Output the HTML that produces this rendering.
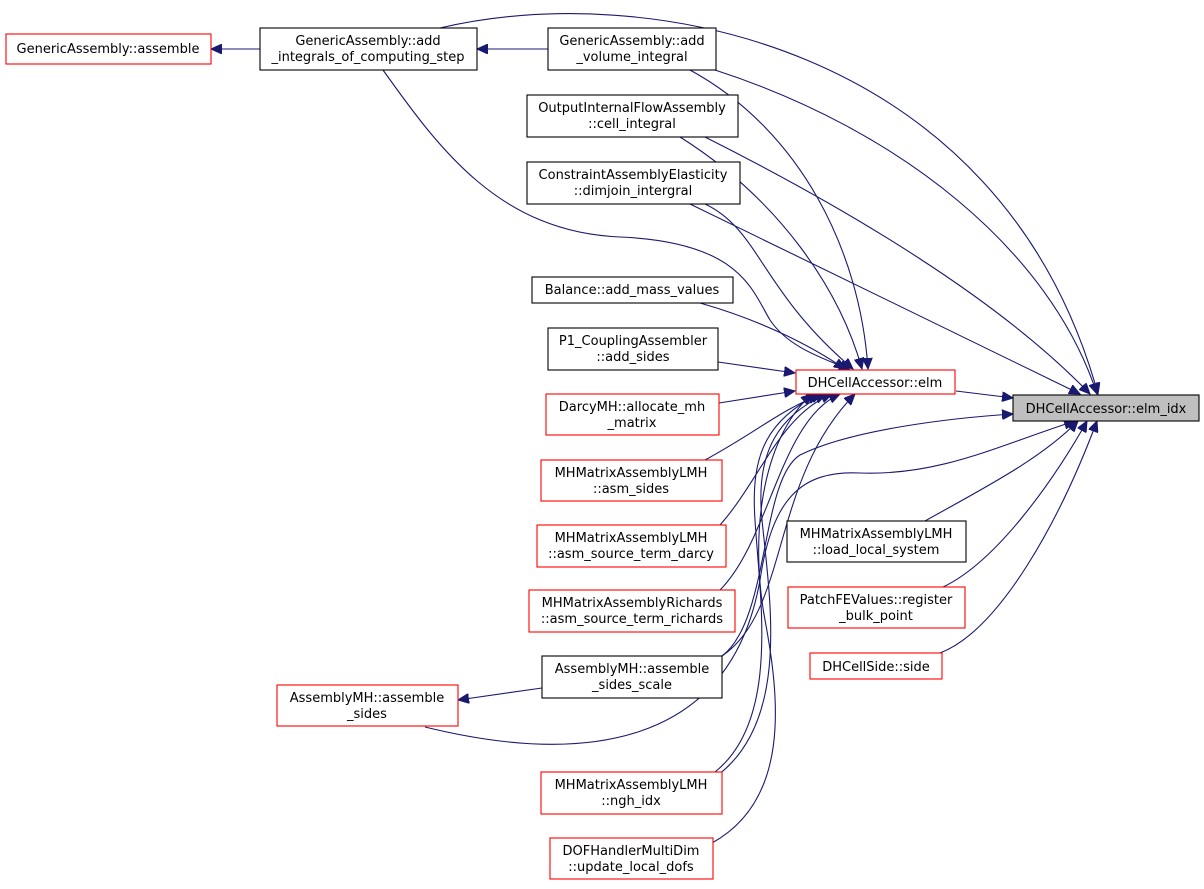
<!DOCTYPE html>
<html><head><meta charset="utf-8"><style>
body{margin:0;background:#fff}
svg text{font-family:"DejaVu Sans","Liberation Sans",sans-serif;font-size:13px;fill:#000}
</style></head><body>
<svg width="1204" height="884" viewBox="0 0 1204 884" xmlns="http://www.w3.org/2000/svg">
<defs>
<marker id="a" markerUnits="userSpaceOnUse" markerWidth="12" markerHeight="10" refX="11" refY="5" orient="auto">
<path d="M0,0 L11,5 L0,10 Z" fill="#191970" stroke="#191970"/>
</marker>
</defs>
<g fill="none" stroke="#191970" stroke-width="1.1" marker-end="url(#a)">
<path d="M260,49 L211,49"/>
<path d="M548,49 L477,49"/>
<path d="M440,28 C640,-20 1000,40 1098,394"/>
<path d="M383,70 C440,150 500,232 620,237 C740,242 752,290 770,320 C790,350 830,360 850,370"/>
<path d="M690,70 C800,130 860,250 868,369"/>
<path d="M715,70 C900,130 1050,250 1097,394"/>
<path d="M680,137 C780,200 840,290 862,369"/>
<path d="M705,137 C850,210 1000,300 1090,394"/>
<path d="M705,204 C760,230 760,290 853,369"/>
<path d="M690,204 L1080,394"/>
<path d="M700,303 C760,320 810,345 845,369"/>
<path d="M718,362 L795,373"/>
<path d="M719,403 L795,391"/>
<path d="M705,460 C760,430 780,410 822,394"/>
<path d="M720,525 C760,480 780,415 832,394"/>
<path d="M720,590 C770,540 780,420 840,394"/>
<path d="M722,656 C790,610 770,480 855,394"/>
<path d="M956,391 L1013,398"/>
<path d="M722,656 C770,620 760,480 800,455 C850,430 950,418 1013,414"/>
<path d="M425,727 C580,765 730,750 760,580 C772,500 800,470 860,473 C940,476 1000,445 1075,421"/>
<path d="M925,521 C980,490 1040,460 1078,421"/>
<path d="M943,587 C1000,560 1060,470 1087,421"/>
<path d="M940,653 C1000,630 1060,520 1097,421"/>
<path d="M715,772 C780,720 760,600 755,520 C750,450 770,420 818,394"/>
<path d="M718,775 C790,720 770,600 762,520 C755,450 780,415 826,394"/>
<path d="M712,843 C790,800 780,700 765,620 C750,540 760,440 812,394"/>
<path d="M542,688 L458,700"/>
</g>
<g stroke-width="1.1">
<rect x="6" y="34" width="205" height="30" fill="#fff" stroke="red"/>
<rect x="260" y="28" width="217" height="42" fill="#fff" stroke="#000"/>
<rect x="548" y="28" width="168" height="42" fill="#fff" stroke="#000"/>
<rect x="527" y="95" width="211" height="42" fill="#fff" stroke="#000"/>
<rect x="527" y="162" width="213" height="42" fill="#fff" stroke="#000"/>
<rect x="532" y="277" width="201" height="26" fill="#fff" stroke="#000"/>
<rect x="548" y="328" width="170" height="42" fill="#fff" stroke="#000"/>
<rect x="546" y="394" width="173" height="41" fill="#fff" stroke="red"/>
<rect x="541" y="460" width="181" height="41" fill="#fff" stroke="red"/>
<rect x="537" y="525" width="189" height="42" fill="#fff" stroke="red"/>
<rect x="529" y="590" width="206" height="42" fill="#fff" stroke="red"/>
<rect x="542" y="656" width="180" height="42" fill="#fff" stroke="#000"/>
<rect x="277" y="685" width="181" height="41" fill="#fff" stroke="red"/>
<rect x="541" y="772" width="181" height="42" fill="#fff" stroke="red"/>
<rect x="550" y="838" width="163" height="41" fill="#fff" stroke="red"/>
<rect x="796" y="370" width="159" height="24" fill="#fff" stroke="red"/>
<rect x="1013" y="395" width="186" height="26" fill="#bfbfbf" stroke="#000"/>
<rect x="787" y="521" width="179" height="41" fill="#fff" stroke="#000"/>
<rect x="788" y="587" width="177" height="41" fill="#fff" stroke="red"/>
<rect x="810" y="653" width="132" height="26" fill="#fff" stroke="red"/>
</g>
<g text-anchor="middle">
<text x="108" y="53">GenericAssembly::assemble</text>
<text x="368" y="45">GenericAssembly::add</text><text x="368" y="61">_integrals_of_computing_step</text>
<text x="632" y="45">GenericAssembly::add</text><text x="632" y="61">_volume_integral</text>
<text x="632" y="112">OutputInternalFlowAssembly</text><text x="632" y="128">::cell_integral</text>
<text x="633" y="179">ConstraintAssemblyElasticity</text><text x="633" y="195">::dimjoin_intergral</text>
<text x="632" y="294">Balance::add_mass_values</text>
<text x="633" y="345">P1_CouplingAssembler</text><text x="633" y="361">::add_sides</text>
<text x="632" y="411">DarcyMH::allocate_mh</text><text x="632" y="427">_matrix</text>
<text x="631" y="477">MHMatrixAssemblyLMH</text><text x="631" y="493">::asm_sides</text>
<text x="631" y="542">MHMatrixAssemblyLMH</text><text x="631" y="558">::asm_source_term_darcy</text>
<text x="632" y="607">MHMatrixAssemblyRichards</text><text x="632" y="623">::asm_source_term_richards</text>
<text x="632" y="673">AssemblyMH::assemble</text><text x="632" y="689">_sides_scale</text>
<text x="367" y="702">AssemblyMH::assemble</text><text x="367" y="718">_sides</text>
<text x="631" y="789">MHMatrixAssemblyLMH</text><text x="631" y="805">::ngh_idx</text>
<text x="631" y="855">DOFHandlerMultiDim</text><text x="631" y="871">::update_local_dofs</text>
<text x="875" y="387">DHCellAccessor::elm</text>
<text x="1106" y="413">DHCellAccessor::elm_idx</text>
<text x="876" y="538">MHMatrixAssemblyLMH</text><text x="876" y="554">::load_local_system</text>
<text x="876" y="604">PatchFEValues::register</text><text x="876" y="620">_bulk_point</text>
<text x="876" y="671">DHCellSide::side</text>
</g>
</svg>
</body></html>
